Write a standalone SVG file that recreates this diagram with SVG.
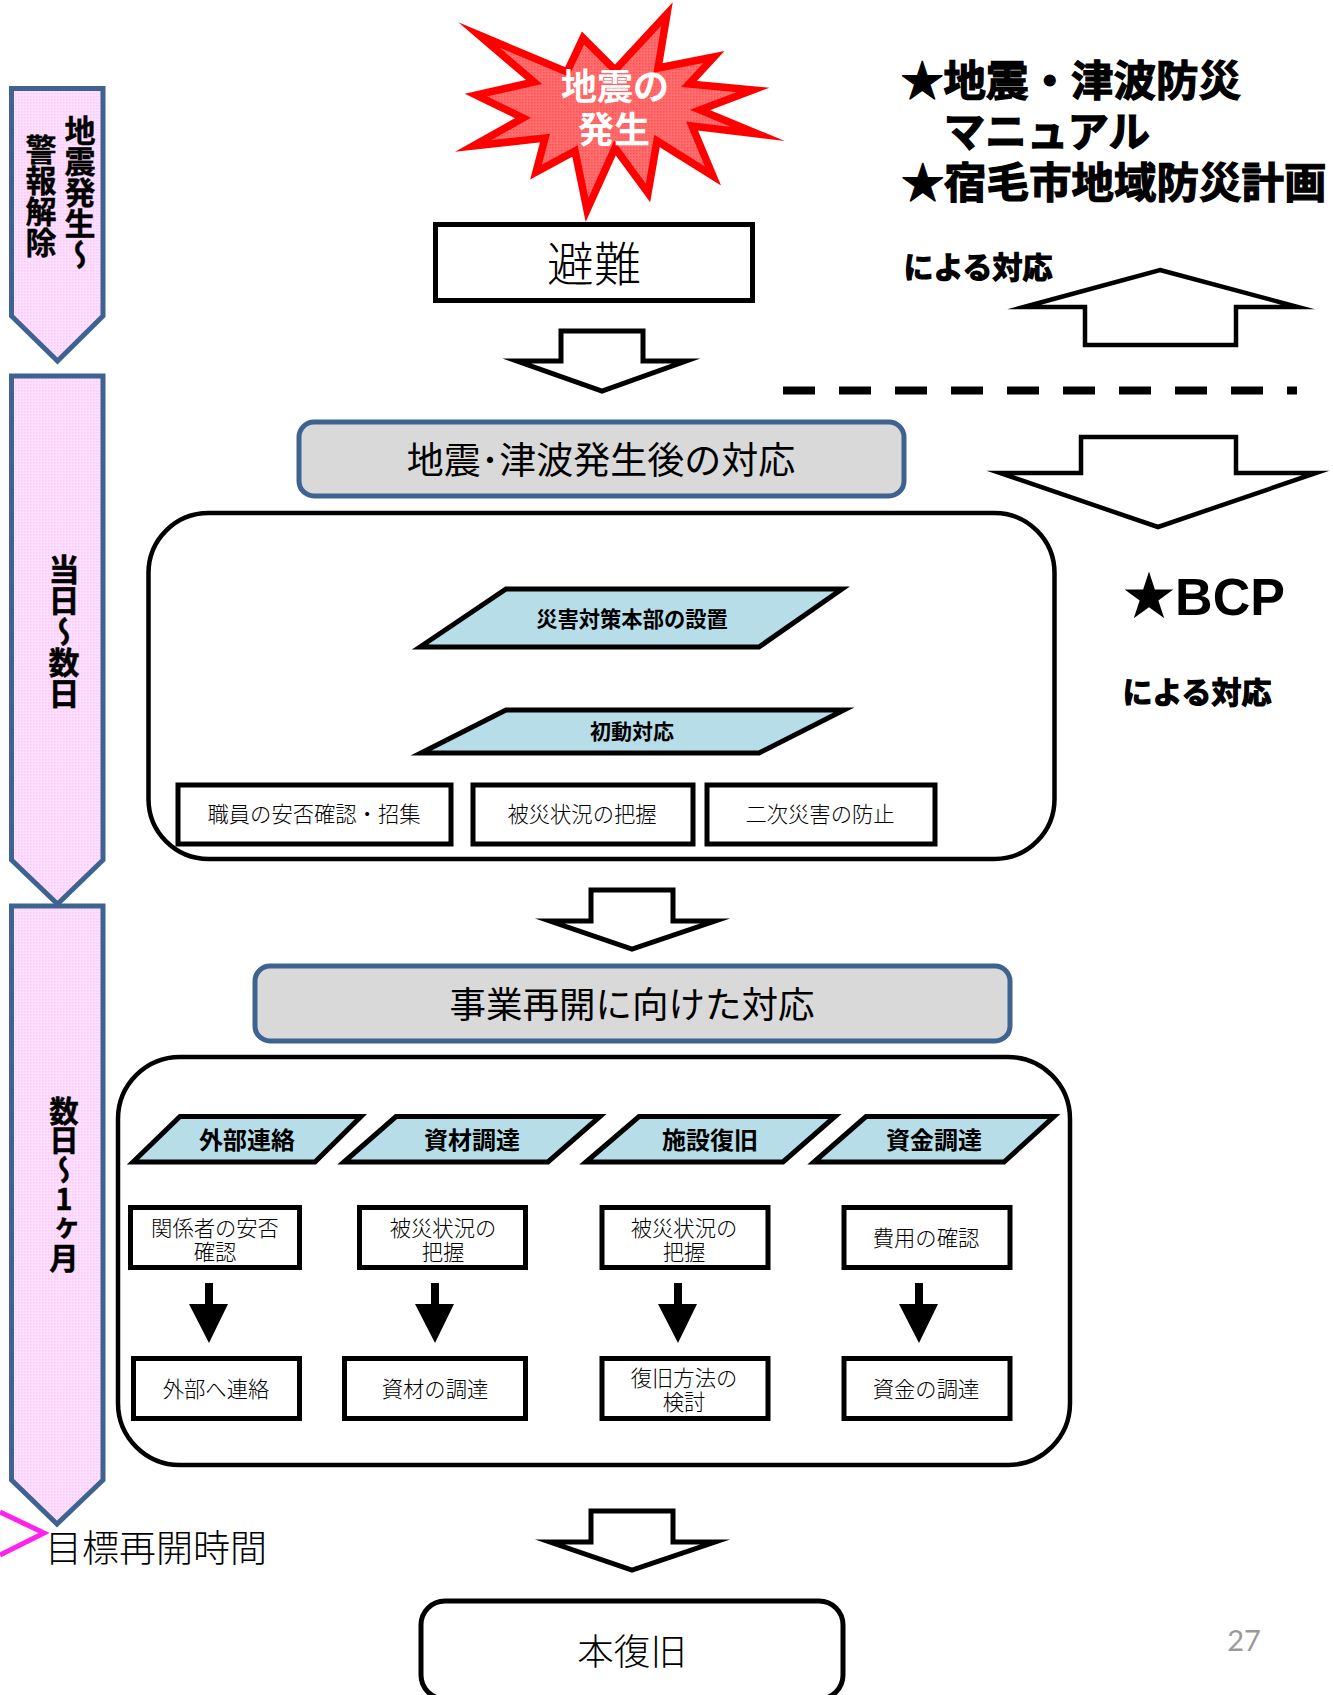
<svg xmlns="http://www.w3.org/2000/svg" width="1333" height="1695" viewBox="0 0 1333 1695">
<style>
text{font-family:"Noto Sans CJK JP","Noto Sans",sans-serif;fill:#000;text-anchor:middle;dominant-baseline:central}
.w{fill:#fff;stroke:#000;stroke-width:5;stroke-miterlimit:20}
.big{fill:#fff;stroke:#000;stroke-width:4.5}
.grey{fill:#d9d9d9;stroke:#3f6391;stroke-width:5}
.para{fill:#b7dde8;stroke:#000;stroke-width:5;stroke-miterlimit:20}
.tl{fill:url(#pink);stroke:#3f6391;stroke-width:5;stroke-miterlimit:10}
.b{font-weight:700}
.hv{font-weight:700;stroke:#000;stroke-width:1.2}
.v{writing-mode:vertical-rl;text-anchor:start;dominant-baseline:auto;font-weight:700;font-size:31px;stroke:#000;stroke-width:.4}
.l{font-weight:300}
.s{font-size:21.3px;font-weight:300}
</style>
<defs>
<pattern id="pink" width="3" height="3" patternUnits="userSpaceOnUse"><rect width="3" height="3" fill="#fde0fd"/><rect width="1.5" height="1.5" fill="#fcc8fc"/></pattern>
<pattern id="red" width="3" height="3" patternUnits="userSpaceOnUse"><rect width="3" height="3" fill="#ff6f6f"/><rect width="1.5" height="1.5" fill="#ff5050"/></pattern>
<polygon id="downArrow" class="w" points="591,890 673,890 673,921 715,921 632,949 550,921 591,921"/>
<polygon id="solid" points="205,1283 213,1283 213,1304 228,1304 209,1343 189,1304 205,1304"/>
</defs>

<g id="timeline">
<g id="phase1"><polygon class="tl" points="11.5,88.5 103,88.5 103,316 57.500,361 11.5,316"/>
<text class="v" x="80" y="115">地震発生～</text><text class="v" x="41" y="134">警報解除</text></g>
<g id="phase2"><polygon class="tl" points="11.5,376 103,376 103,860 57.500,904 11.5,860"/>
<text class="v" x="64" y="554">当日～数日</text></g>
<g id="phase3"><polygon class="tl" points="11.5,906 103,906 103,1480 57,1524 11.5,1480"/>
<text class="v" x="64" y="1096" style="text-orientation:upright;font-size:29.4px">数日～1ヶ月</text></g>
</g>

<g id="quake"><polygon points="479,35 567,72 583,38 615,70 667,14 658,68 714,57 689,84 753,90 700,110 758,134 692,126 713,176 657,141 648,193 615,148 587,210 575,151 536,172 545,138 473,146 523,118 476,95 534,82" fill="url(#red)" stroke="#f00" stroke-width="7.5" stroke-miterlimit="20"/>
<text class="b" font-size="36" style="fill:#fff"><tspan x="615" y="84">地震の</tspan><tspan x="614" y="127">発生</tspan></text></g>

<g id="evac"><rect class="w" x="435.5" y="224.5" width="317" height="76"/><text class="l" x="594" y="260" font-size="47">避難</text></g>

<g id="head1"><rect class="grey" x="299" y="422" width="605" height="74" rx="15"/><text x="601" y="458" font-size="37">地震･津波発生後の対応</text></g>
<g id="panel1"><rect class="big" x="148.5" y="513" width="906" height="346" rx="60"/></g>
<g id="p-hq"><polygon class="para" points="420,647 506,589 842,589 759,647"/><text class="b" x="632" y="617" font-size="21.3">災害対策本部の設置</text></g>
<g id="p-init"><polygon class="para" points="421,753 506,710 844,710 759,753"/><text class="b" x="632" y="730" font-size="21">初動対応</text></g>
<g id="b1"><rect class="w" x="178" y="785" width="273" height="59"/><text class="s" x="314" y="812">職員の安否確認・招集</text></g>
<g id="b2"><rect class="w" x="473" y="785" width="220" height="59"/><text class="s" x="582" y="812">被災状況の把握</text></g>
<g id="b3"><rect class="w" x="707" y="785" width="228" height="59"/><text class="s" x="820" y="812">二次災害の防止</text></g>

<g id="head2"><rect class="grey" x="255" y="966" width="755" height="75" rx="15"/><text x="632" y="1002" font-size="36.500">事業再開に向けた対応</text></g>
<g id="panel2"><rect class="big" x="118" y="1057" width="952" height="408" rx="62"/></g>
<g id="p-a"><polygon class="para" points="133,1162 180,1116.500 361,1116.500 315,1162"/><text class="b" x="247" y="1138" font-size="24">外部連絡</text></g>
<g id="p-b"><polygon class="para" points="344,1162 396,1116.500 600,1116.500 548,1162"/><text class="b" x="472" y="1138" font-size="24">資材調達</text></g>
<g id="p-c"><polygon class="para" points="586,1162 639,1116.500 835,1116.500 783,1162"/><text class="b" x="710" y="1138" font-size="24">施設復旧</text></g>
<g id="p-d"><polygon class="para" points="814,1162 866,1116.500 1054,1116.500 1004,1162"/><text class="b" x="934" y="1138" font-size="24">資金調達</text></g>

<g id="r1a"><rect class="w" x="130.500" y="1207.500" width="169" height="60"/><text class="s"><tspan x="215" y="1226">関係者の安否</tspan><tspan x="215" y="1250">確認</tspan></text></g>
<g id="r1b"><rect class="w" x="359.500" y="1207.500" width="166" height="60"/><text class="s"><tspan x="443" y="1226">被災状況の</tspan><tspan x="443" y="1250">把握</tspan></text></g>
<g id="r1c"><rect class="w" x="602" y="1207.500" width="166" height="60"/><text class="s"><tspan x="684" y="1226">被災状況の</tspan><tspan x="684" y="1250">把握</tspan></text></g>
<g id="r1d"><rect class="w" x="844" y="1207.500" width="166" height="60"/><text class="s" x="926" y="1236">費用の確認</text></g>
<g id="r2a"><rect class="w" x="133.500" y="1358.500" width="166" height="60"/><text class="s" x="216" y="1387">外部へ連絡</text></g>
<g id="r2b"><rect class="w" x="344.500" y="1358.500" width="181" height="60"/><text class="s" x="435" y="1387">資材の調達</text></g>
<g id="r2c"><rect class="w" x="602" y="1358.500" width="166" height="60"/><text class="s"><tspan x="684" y="1376">復旧方法の</tspan><tspan x="684" y="1400">検討</tspan></text></g>
<g id="r2d"><rect class="w" x="844" y="1358.500" width="166" height="60"/><text class="s" x="926" y="1387">資金の調達</text></g>

<g id="final"><rect class="w" x="421" y="1601" width="422" height="98" rx="24"/><text class="l" x="632" y="1649" font-size="36.500">本復旧</text></g>
<text class="l" id="target" x="156" y="1546" font-size="37">目標再開時間</text>

<g id="notes">
<text class="hv" font-size="42.500"><tspan x="1071" y="77">★地震・津波防災</tspan><tspan x="1047" y="129" font-size="41.500">マニュアル</tspan><tspan x="1114" y="179">★宿毛市地域防災計画</tspan></text>
<text class="hv" x="978" y="265" font-size="30">による対応</text>
<text x="1204" y="597" font-size="52" style="font-family:'Liberation Sans','Noto Sans CJK JP',sans-serif;font-weight:700">★BCP</text>
<text class="hv" x="1197" y="690" font-size="30">による対応</text>
</g>
<text id="page" x="1244" y="1639" font-size="29" style="font-family:Lato,sans-serif;fill:#9a9a9a">27</text>

<g id="connectors">
<polygon class="w" points="561,331 643,331 643,361 686,361 602,391 517,361 561,361"/>
<use href="#downArrow"/>
<use href="#downArrow" y="621"/>
<polygon class="w" points="1160,270 1298,307 1236,307 1236,345 1085,345 1085,307 1024,307" style="stroke-width:4.5"/>
<polygon class="w" points="1081,437 1236,437 1236,473 1316,473 1158,527 1000,473 1081,473" style="stroke-width:4.5"/>
<line x1="783" y1="390.5" x2="1297" y2="390.5" stroke="#000" stroke-width="8" stroke-dasharray="32 24"/>
<use href="#solid"/>
<use href="#solid" x="226"/>
<use href="#solid" x="469"/>
<use href="#solid" x="710"/>
<polyline points="0,1512 44,1533 0,1555" fill="none" stroke="#ff22ee" stroke-width="5"/>
</g>
</svg>
